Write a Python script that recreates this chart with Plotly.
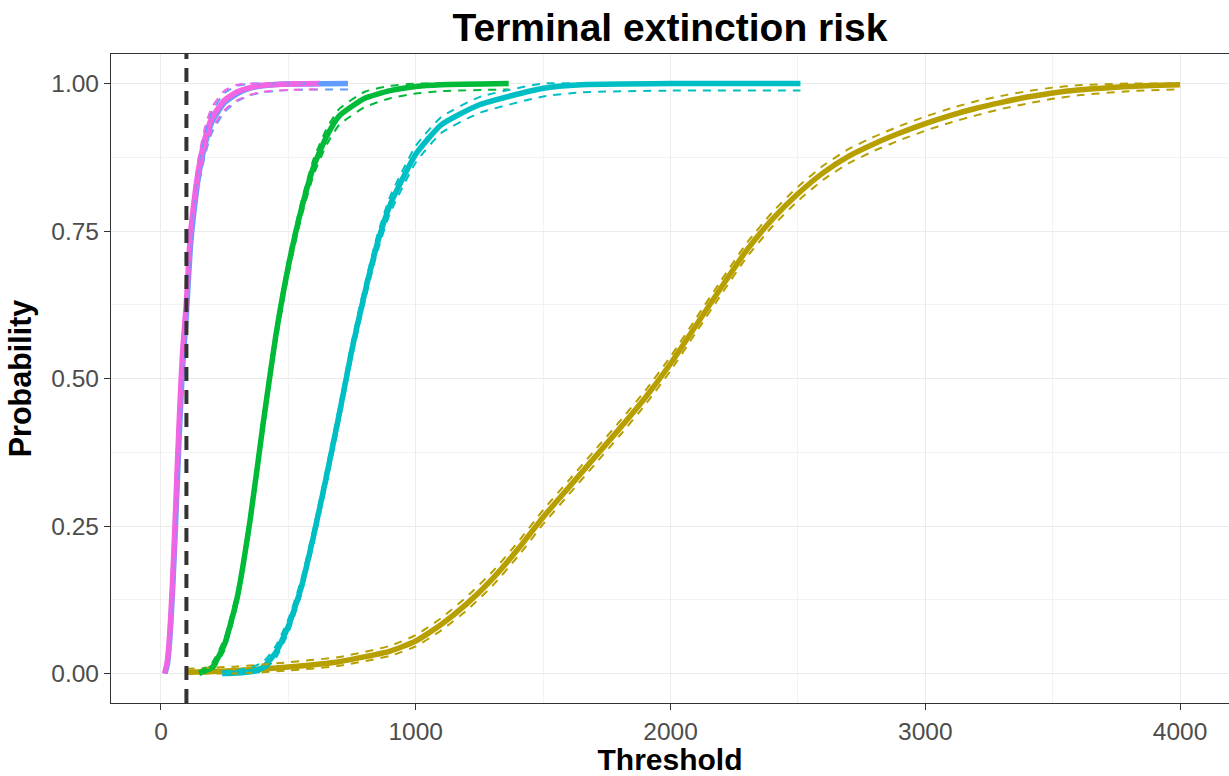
import plotly.graph_objects as go

# ---------------- data ----------------
THRESHOLD_LINE = 100

gold_x = [100, 300, 500, 700, 900, 1000, 1100, 1200, 1300, 1400, 1500, 1600, 1700, 1800, 1900,
          2000, 2100, 2200, 2300, 2400, 2500, 2600, 2700, 2800, 2900, 3000, 3100, 3200, 3300, 3400,
          3500, 3600, 3800, 4000]
gold_y = [0.002, 0.005, 0.011, 0.020, 0.038, 0.055, 0.083, 0.118, 0.160, 0.210, 0.265, 0.315, 0.365,
          0.415, 0.467, 0.525, 0.590, 0.655, 0.718, 0.770, 0.813, 0.849, 0.877, 0.898, 0.916, 0.932,
          0.946, 0.958, 0.968, 0.977, 0.984, 0.989, 0.995, 0.998]
gold_lo = [0.000, 0.000, 0.005, 0.013, 0.030, 0.046, 0.073, 0.107, 0.148, 0.198, 0.253, 0.303, 0.353,
           0.403, 0.455, 0.513, 0.578, 0.643, 0.706, 0.758, 0.801, 0.837, 0.865, 0.886, 0.904, 0.920,
           0.934, 0.946, 0.957, 0.966, 0.974, 0.980, 0.987, 0.990]
gold_hi = [0.008, 0.012, 0.019, 0.028, 0.047, 0.065, 0.094, 0.130, 0.172, 0.222, 0.277, 0.327, 0.377,
           0.427, 0.479, 0.537, 0.602, 0.667, 0.730, 0.782, 0.825, 0.861, 0.889, 0.910, 0.928, 0.944,
           0.958, 0.970, 0.979, 0.987, 0.993, 0.997, 1.000, 1.000]

green_x = [150, 200, 250, 300, 350, 400, 450, 500, 550, 600, 650, 700, 800, 900, 1000, 1100, 1365]
green_y = [0.000, 0.010, 0.050, 0.130, 0.260, 0.420, 0.570, 0.690, 0.785, 0.860, 0.910, 0.945, 0.975,
           0.988, 0.995, 0.998, 1.000]
green_lo = [0.000, 0.004, 0.040, 0.118, 0.246, 0.405, 0.555, 0.676, 0.772, 0.846, 0.896, 0.930, 0.960,
            0.975, 0.983, 0.987, 0.990]
green_hi = [0.004, 0.018, 0.060, 0.142, 0.274, 0.435, 0.585, 0.704, 0.798, 0.873, 0.923, 0.957, 0.986,
            0.996, 1.000, 1.000, 1.000]

cyan_x = [240, 300, 350, 400, 450, 500, 550, 600, 650, 700, 750, 800, 850, 900, 1000, 1100, 1250,
          1500, 1650, 2000, 2510]
cyan_y = [0.000, 0.001, 0.003, 0.010, 0.035, 0.080, 0.145, 0.235, 0.335, 0.440, 0.550, 0.645, 0.730,
          0.795, 0.880, 0.930, 0.964, 0.992, 0.998, 1.000, 1.000]
cyan_lo = [0.000, 0.000, 0.000, 0.004, 0.026, 0.069, 0.133, 0.222, 0.321, 0.426, 0.536, 0.631, 0.716,
           0.781, 0.866, 0.916, 0.950, 0.978, 0.985, 0.988, 0.988]
cyan_hi = [0.004, 0.006, 0.010, 0.019, 0.046, 0.092, 0.158, 0.248, 0.349, 0.454, 0.564, 0.659, 0.744,
           0.809, 0.894, 0.943, 0.977, 1.000, 1.000, 1.000, 1.000]

blue_x = [15, 25, 35, 45, 55, 65, 75, 85, 100, 115, 130, 150, 175, 200, 250, 300, 350, 400, 500, 734]
blue_y = [0.000, 0.015, 0.060, 0.135, 0.230, 0.335, 0.435, 0.520, 0.610, 0.720, 0.785, 0.850, 0.900,
          0.935, 0.968, 0.983, 0.992, 0.996, 0.999, 1.000]
blue_lo = [0.000, 0.008, 0.048, 0.120, 0.213, 0.317, 0.417, 0.502, 0.592, 0.702, 0.767, 0.832, 0.882,
           0.917, 0.952, 0.970, 0.980, 0.985, 0.989, 0.990]
blue_hi = [0.004, 0.024, 0.073, 0.150, 0.247, 0.353, 0.453, 0.538, 0.628, 0.738, 0.803, 0.868, 0.918,
           0.953, 0.984, 0.996, 1.000, 1.000, 1.000, 1.000]

pink_x = [15, 25, 35, 45, 55, 65, 75, 85, 100, 115, 130, 150, 175, 200, 250, 300, 350, 400, 500, 624]
pink_y = [0.000, 0.020, 0.070, 0.150, 0.250, 0.360, 0.460, 0.545, 0.630, 0.740, 0.800, 0.860, 0.910,
          0.942, 0.972, 0.986, 0.993, 0.997, 0.999, 1.000]
pink_lo = [0.000, 0.012, 0.057, 0.134, 0.232, 0.341, 0.441, 0.526, 0.611, 0.721, 0.781, 0.841, 0.891,
           0.923, 0.955, 0.972, 0.981, 0.986, 0.989, 0.990]
pink_hi = [0.004, 0.029, 0.083, 0.166, 0.268, 0.379, 0.479, 0.564, 0.649, 0.759, 0.819, 0.879, 0.929,
           0.960, 0.988, 0.998, 1.000, 1.000, 1.000, 1.000]

series_names = ["gold", "green", "cyan", "blue", "pink"]
series_colors = ["#B79F00", "#00BA38", "#00BFC4", "#619CFF", "#F564E3"]
series_x = [gold_x, green_x, cyan_x, blue_x, pink_x]
series_y = [gold_y, green_y, cyan_y, blue_y, pink_y]
series_lo = [gold_lo, green_lo, cyan_lo, blue_lo, pink_lo]
series_hi = [gold_hi, green_hi, cyan_hi, blue_hi, pink_hi]

x_ticks = [0, 1000, 2000, 3000, 4000]
y_ticks = [0.0, 0.25, 0.5, 0.75, 1.0]
y_tick_text = ["0.00", "0.25", "0.50", "0.75", "1.00"]

# ---------------- figure ----------------
FONT = "Liberation Sans, Arial, sans-serif"
fig = go.Figure()

for name, col, xs, ys in zip(series_names, series_colors, series_x, series_y):
    fig.add_trace(go.Scatter(x=xs, y=ys, mode="lines", name=name,
                             line=dict(color=col, width=5.5, shape="spline", smoothing=0.5),
                             showlegend=False, hoverinfo="skip"))

for name, col, xs, lo, hi in zip(series_names, series_colors, series_x, series_lo, series_hi):
    for band in (lo, hi):
        fig.add_trace(go.Scatter(x=xs, y=band, mode="lines", name=name,
                                 line=dict(color=col, width=2, dash="8px,7px",
                                           shape="spline", smoothing=0.5),
                                 showlegend=False, hoverinfo="skip"))

fig.add_vline(x=THRESHOLD_LINE, line=dict(color="#333333", width=4, dash="14px,9px"))

fig.update_layout(
    width=1229, height=776,
    margin=dict(l=111, r=0, t=54, b=73),
    paper_bgcolor="white", plot_bgcolor="white",
    font=dict(family=FONT, color="#4D4D4D"),
    title=dict(text="<b>Terminal extinction risk</b>", x=0.5, xref="paper",
               y=1 - 27 / 776, yref="container", xanchor="center", yanchor="middle",
               font=dict(size=39, color="black", family=FONT)),
    showlegend=False,
)

fig.update_xaxes(
    range=[-196, 4192], tickvals=x_ticks, ticktext=[str(v) for v in x_ticks],
    tickfont=dict(size=24.5, color="#4D4D4D"),
    ticks="outside", ticklen=6, tickwidth=1.2, tickcolor="#333333",
    showgrid=True, gridcolor="#EBEBEB", gridwidth=1.3,
    minor=dict(dtick=500, tick0=500, showgrid=True, gridcolor="#F2F2F2", gridwidth=0.8, ticks=""),
    showline=True, linecolor="#333333", linewidth=1.2, mirror=True,
    zeroline=False,
    title=dict(text="<b>Threshold</b>", font=dict(size=30, color="black", family=FONT), standoff=9),
)
fig.update_yaxes(
    range=[-0.05, 1.05], tickvals=y_ticks, ticktext=y_tick_text,
    tickfont=dict(size=24.5, color="#4D4D4D"),
    ticks="outside", ticklen=6, tickwidth=1.2, tickcolor="#333333",
    showgrid=True, gridcolor="#EBEBEB", gridwidth=1.3,
    minor=dict(dtick=0.25, tick0=0.125, showgrid=True, gridcolor="#F2F2F2", gridwidth=0.8, ticks=""),
    showline=True, linecolor="#333333", linewidth=1.2, mirror=False,
    zeroline=False,
    title=dict(text="<b>Probability</b>", font=dict(size=30.5, color="black", family=FONT), standoff=10),
)

fig.write_html("out.html")
